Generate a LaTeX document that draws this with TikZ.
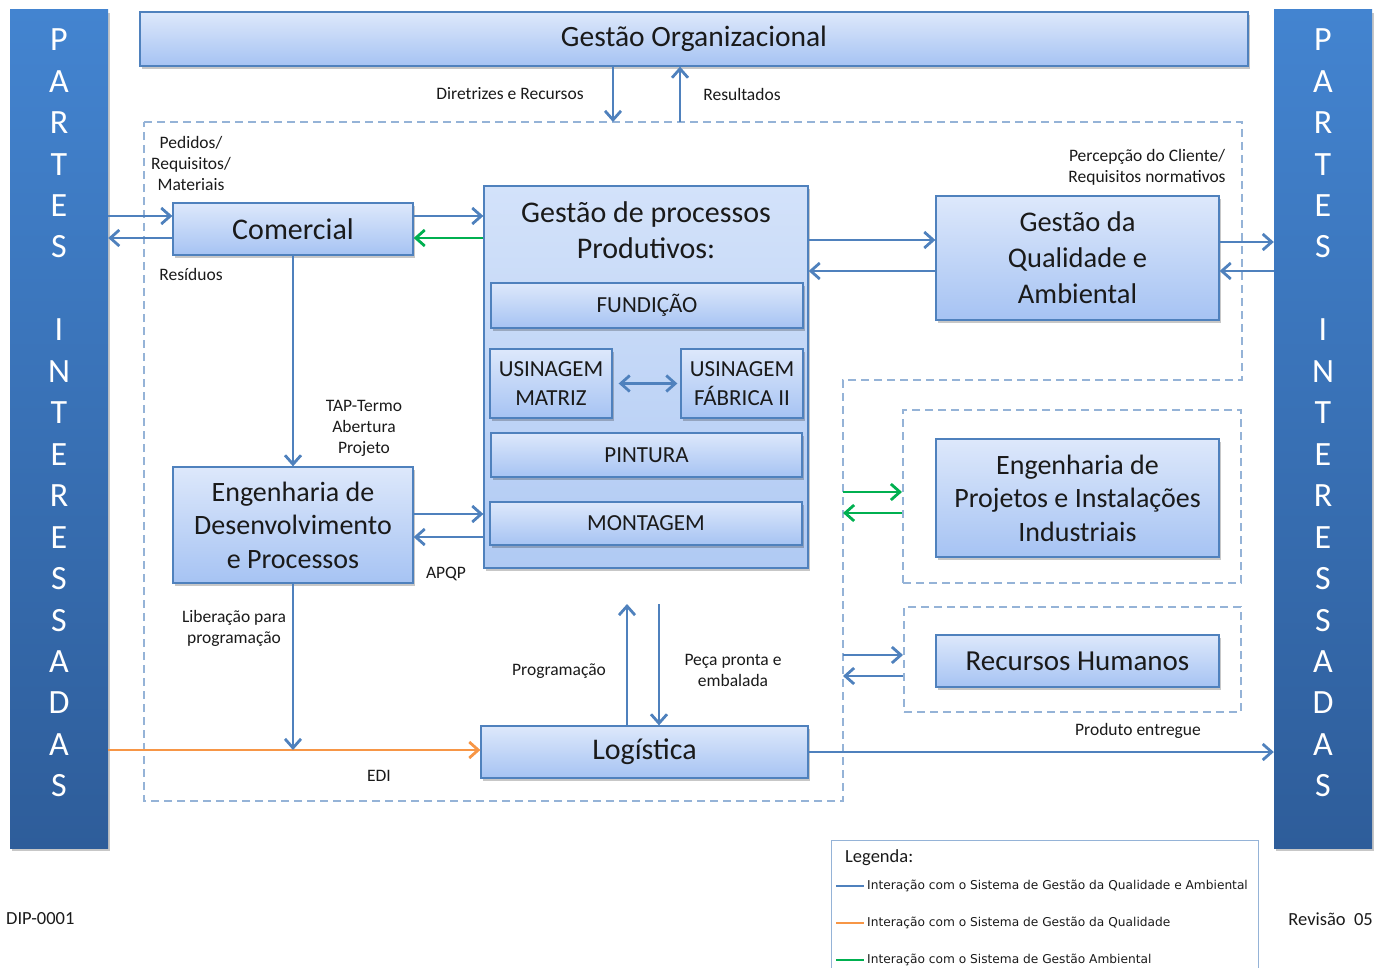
\documentclass[tikz,border=0pt]{standalone}
\usepackage{fontspec}
\setmainfont{Carlito}
\newfontfamily\legfont{DejaVu Sans}
\usetikzlibrary{arrows.meta,shadows,calc}
\definecolor{lineblue}{HTML}{4F81BD}
\definecolor{lgreen}{HTML}{00B050}
\definecolor{lorange}{HTML}{F79646}
\definecolor{dashc}{HTML}{95B3D7}
\definecolor{boxborder}{HTML}{4F81BD}
\definecolor{boxtop}{HTML}{DDE8FB}
\definecolor{boxbot}{HTML}{A6C3F3}
\definecolor{proctop}{HTML}{D3E2FA}
\definecolor{procbot}{HTML}{B0CAF3}
\definecolor{bartop}{HTML}{4384D0}
\definecolor{barbot}{HTML}{2E5D9A}
\definecolor{txt}{HTML}{1A1A1A}
\newcommand\fbig{\fontsize{30}{34}\selectfont}
\newcommand\fsmall{\fontsize{17.5}{21}\selectfont}
\newcommand\fmid{\fontsize{23}{29}\selectfont}
\begin{document}
\begin{tikzpicture}[x=1pt,y=-1pt,
  box/.style={draw=boxborder, line width=1.3pt, top color=boxtop, bottom color=boxbot,
    inner sep=0pt, align=center, text=txt,
    drop shadow={shadow xshift=2pt,shadow yshift=-3pt,opacity=0.22,fill=black}},
  pbox/.style={box, top color=proctop, bottom color=procbot},
  bar/.style={draw=none, top color=bartop, bottom color=barbot, inner sep=0pt,
    drop shadow={shadow xshift=2pt,shadow yshift=-3pt,opacity=0.22,fill=black}},
  bartext/.style={text=white, align=center, font=\fontsize{34}{41.45}\selectfont},
  dbox/.style={draw=dashc, line width=2pt, dash pattern=on 8pt off 5pt, inner sep=0pt},
  arr/.style={draw=lineblue, line width=2.8pt, -{Straight Barb[length=9pt,width=16pt]}},
  darr/.style={draw=lineblue, line width=2.8pt, {Straight Barb[length=9pt,width=16pt]}-{Straight Barb[length=9pt,width=16pt]}},
  garr/.style={arr, draw=lgreen},
  oarr/.style={arr, draw=lorange},
  lab/.style={font=\fsmall, text=txt, align=center, inner sep=0pt},
  legtxt/.style={font=\legfont\fontsize{12.2}{14}\selectfont, text=txt, anchor=west, inner sep=0pt}
]
\useasboundingbox (0,0) rectangle (1380,968);

% side bars
\node[bar, minimum width=98pt, minimum height=838pt] (lbar) at (59,429) {};
\node[bar, minimum width=98pt, minimum height=838pt] (rbar) at (1323,429) {};
\node[bartext] (ltext) at (59,413) {P\\A\\R\\T\\E\\S\\[41.45pt]I\\N\\T\\E\\R\\E\\S\\S\\A\\D\\A\\S};
\node[bartext] (rtext) at (1323,413) {P\\A\\R\\T\\E\\S\\[41.45pt]I\\N\\T\\E\\R\\E\\S\\S\\A\\D\\A\\S};

% outer dashed boundary
\draw[dashc, line width=2pt, dash pattern=on 8pt off 5pt]
  (144,122) -- (1242,122) -- (1242,380) -- (843,380) -- (843,801) -- (144,801) -- cycle;
\coordinate (dtop) at (0,122);
\coordinate (dx) at (843,0);

% boxes
\node[box, minimum width=1108pt, minimum height=54pt, font=\fontsize{29.5}{34}\selectfont] (org) at (694,39) {Gestão Organizacional};
\node[box, minimum width=240pt, minimum height=52pt, font=\fbig] (com) at (293,229) {Comercial};
\node[pbox, minimum width=324pt, minimum height=382pt] (proc) at (646,377) {};
\node[font=\fontsize{30}{36}\selectfont, text=txt, align=center, inner sep=0pt] (proct) at (646,230) {Gestão de processos\\Produtivos:};
\node[box, minimum width=312pt, minimum height=45pt, font=\fmid] (fund) at (647,305.5) {FUNDIÇÃO};
\node[box, minimum width=122pt, minimum height=69pt, font=\fmid] (usm) at (551,383.5) {USINAGEM\\MATRIZ};
\node[box, minimum width=122pt, minimum height=69pt, font=\fmid] (usf) at (742,383.5) {USINAGEM\\FÁBRICA II};
\node[box, minimum width=311pt, minimum height=44pt, font=\fmid] (pint) at (646.5,455) {PINTURA};
\node[box, minimum width=312pt, minimum height=43pt, font=\fmid] (mont) at (646,523.5) {MONTAGEM};
\node[box, minimum width=283pt, minimum height=124pt, font=\fontsize{28.5}{36}\selectfont] (gqa) at (1077.5,258) {Gestão da\\Qualidade e\\Ambiental};
\node[box, minimum width=240pt, minimum height=116pt, font=\fontsize{28}{33.5}\selectfont] (edp) at (293,525) {Engenharia de\\Desenvolvimento\\e Processos};
\node[box, minimum width=327pt, minimum height=52pt, font=\fbig] (log) at (644.5,752) {Logística};
\node[dbox, minimum width=338pt, minimum height=173pt] (db1) at (1072,496.5) {};
\node[dbox, minimum width=337pt, minimum height=105pt] (db2) at (1072.5,659.5) {};
\node[box, minimum width=283pt, minimum height=118pt, font=\fontsize{28}{33.5}\selectfont] (epi) at (1077.5,498) {Engenharia de\\Projetos e Instalações\\Industriais};
\node[box, minimum width=283pt, minimum height=52pt, font=\fontsize{29}{34}\selectfont] (rh) at (1077.5,661) {Recursos Humanos};

% connectors
\draw[arr] ([xshift=-81pt]org.south) -- ([xshift=-81pt]org.south |- dtop);
\draw[arr] ([xshift=-14pt]org.south |- dtop) -- ([xshift=-14pt]org.south);
\draw[arr] ([yshift=13pt]com.west -| lbar.east) -- ([yshift=13pt]com.west);
\draw[arr] ([yshift=-9pt]com.west) -- ([yshift=-9pt]com.west -| lbar.east);
\draw[arr] ([yshift=13pt]com.east) -- ([yshift=13pt]com.east -| proc.west);
\draw[garr] ([yshift=-9pt]com.east -| proc.west) -- ([yshift=-9pt]com.east);
\draw[arr] ([yshift=18pt]gqa.west -| proc.east) -- ([yshift=18pt]gqa.west);
\draw[arr] ([yshift=-13pt]gqa.west) -- ([yshift=-13pt]gqa.west -| proc.east);
\draw[arr] ([yshift=16pt]gqa.east) -- ([yshift=16pt]gqa.east -| rbar.west);
\draw[arr] ([yshift=-13pt]gqa.east -| rbar.west) -- ([yshift=-13pt]gqa.east);
\draw[arr] (com.south) -- (edp.north);
\draw[arr] ([yshift=11pt]edp.east) -- ([yshift=11pt]edp.east -| proc.west);
\draw[arr] ([yshift=-12pt]edp.east -| proc.west) -- ([yshift=-12pt]edp.east);
\draw[darr] ([xshift=6pt]usm.east) -- ([xshift=-3pt]usf.west);
\draw[oarr] ([yshift=2pt]log.west -| lbar.east) -- ([yshift=2pt]log.west);
\draw[arr] (edp.south) -- ([yshift=2pt]edp.south |- log.west);
\draw[arr] (log.east) -- (log.east -| rbar.west);
\draw[arr] ([xshift=-17.5pt]log.north) -- ([xshift=-17.5pt]log.north |- 0,604);
\draw[arr] ([xshift=14.5pt]log.north |- 0,604) -- ([xshift=14.5pt]log.north);
\draw[garr] (dx |- 0,492) -- (db1.west |- 0,492);
\draw[garr] (db1.west |- 0,513) -- (dx |- 0,513);
\draw[arr] (dx |- 0,655) -- (db2.west |- 0,655);
\draw[arr] (db2.west |- 0,676) -- (dx |- 0,676);

% labels
\node[lab] (ldir) at (510,94) {Diretrizes e Recursos};
\node[lab] (lres) at (742,94) {Resultados};
\node[lab] (lped) at (191,163) {Pedidos/\\Requisitos/\\Materiais};
\node[lab] (lresid) at (191,274) {Resíduos};
\node[lab] (lperc) at (1147,167.5) {Percepção do Cliente/\\Requisitos normativos};
\node[lab] (ltap) at (364,428) {TAP-Termo\\Abertura\\Projeto};
\node[lab] (lapqp) at (446,574) {APQP};
\node[lab] (llib) at (234,628.5) {Liberação para\\programação};
\node[lab] (lprog) at (559,671) {Programação};
\node[lab] (lpeca) at (733,670.5) {Peça pronta e\\embalada};
\node[lab] (lprod) at (1138,731) {Produto entregue};
\node[lab] (ledi) at (379,776) {EDI};
\node[lab, anchor=west, font=\fontsize{18.5}{22}\selectfont] (ldip) at (6,919) {DIP-0001};
\node[lab, anchor=east, font=\fontsize{18.5}{22}\selectfont] (lrev) at (1373,919) {Revisão\ \ 05};

% legend
\draw[draw=dashc, line width=1pt] (831,978) -- (831,840) -- (1258,840) -- (1258,978);
\node[lab, anchor=west, font=\fontsize{18.5}{22}\selectfont] (legt) at (845,858) {Legenda:};
\node[legtxt] (leg1) at (867,886) {Interação com o Sistema de Gestão da Qualidade e Ambiental};
\node[legtxt] (leg2) at (867,923) {Interação com o Sistema de Gestão da Qualidade};
\node[legtxt] (leg3) at (867,960) {Interação com o Sistema de Gestão Ambiental};
\coordinate (s1) at (836,886);
\coordinate (s2) at (836,923);
\coordinate (s3) at (836,960);
\draw[lineblue, line width=2.8pt] (s1) -- ([xshift=-3pt]leg1.west);
\draw[lorange, line width=2.8pt] (s2) -- ([xshift=-3pt]leg2.west);
\draw[lgreen, line width=2.8pt] (s3) -- ([xshift=-3pt]leg3.west);
\end{tikzpicture}
\end{document}
